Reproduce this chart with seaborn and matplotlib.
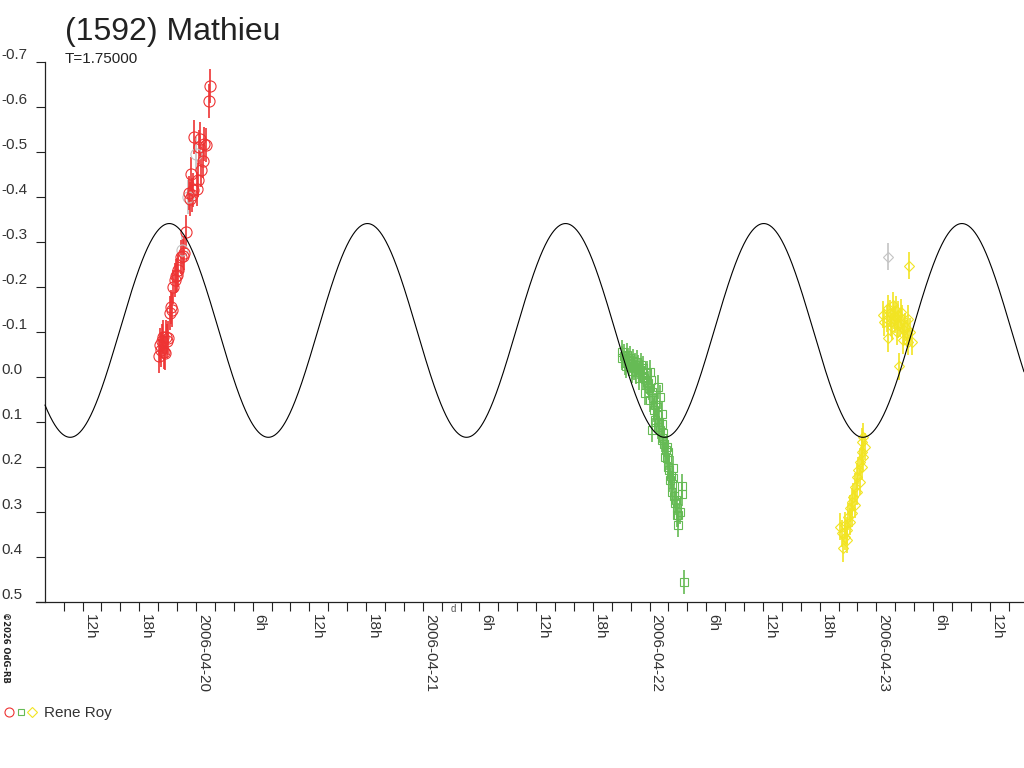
import numpy as np
import pandas as pd
import matplotlib
matplotlib.use('Agg')
import matplotlib.pyplot as plt
import matplotlib.dates as mdates
from matplotlib.lines import Line2D
from matplotlib.legend_handler import HandlerTuple
import seaborn as sns

# times are hours since 2006-04-19 00:00 UT, values are relative magnitudes
red_t = [20.08, 20.19, 20.30, 20.40, 20.51, 20.61, 20.72, 20.83, 20.93, 21.04,
         21.25, 21.35, 21.46, 21.57, 21.78, 21.88, 21.99, 22.10, 22.41, 22.62,
         22.73, 22.94, 23.26, 23.37, 23.47, 23.58, 23.68, 23.79, 24.11, 24.21,
         24.32, 24.42, 24.53, 24.74, 24.85, 25.06, 25.38, 25.48]
red_mag = [-0.047, -0.071, -0.060, -0.080, -0.089, -0.056, -0.053, -0.089, -0.080, -0.087,
           -0.142, -0.156, -0.149, -0.200, -0.216, -0.224, -0.227, -0.238, -0.267, -0.269,
           -0.276, -0.322, -0.409, -0.396, -0.451, -0.404, -0.416, -0.533, -0.418, -0.438,
           -0.511, -0.529, -0.460, -0.480, -0.518, -0.516, -0.613, -0.647]
red_gray_t = [22.52, 23.15, 24.00]
red_gray_mag = [-0.282, -0.400, -0.496]

green_t = [69.05, 69.08, 69.29, 69.40, 69.51, 69.61, 69.72, 69.82, 69.93, 70.11,
           70.14, 70.25, 70.35, 70.46, 70.56, 70.67, 70.77, 70.88, 70.99, 71.09,
           71.17, 71.20, 71.30, 71.41, 71.52, 71.70, 71.73, 71.83, 71.94, 72.04,
           72.04, 72.15, 72.22, 72.26, 72.36, 72.47, 72.57, 72.57, 72.75, 72.78,
           72.89, 72.89, 72.99, 73.10, 73.10, 73.28, 73.28, 73.31, 73.42, 73.42,
           73.52, 73.63, 73.73, 73.81, 73.84, 73.95, 73.95, 74.05, 74.16, 74.26,
           74.34, 74.37, 74.48, 74.48, 74.58, 74.69, 74.79, 74.87, 74.90, 75.01,
           75.01, 75.22, 75.40, 75.40, 75.64]
green_mag = [-0.042, -0.056, -0.047, -0.031, -0.024, -0.049, -0.038, -0.029, -0.042, -0.022,
             -0.013, -0.036, -0.020, -0.027, -0.011, -0.033, -0.022, 0.002, -0.016, -0.027,
             0.000, -0.011, -0.020, 0.002, 0.036, -0.009, 0.011, 0.013, 0.024, -0.011,
             0.051, 0.007, 0.118, 0.033, 0.047, 0.073, 0.096, 0.062, 0.067, 0.084,
             0.022, 0.111, 0.100, 0.044, 0.118, 0.082, 0.140, 0.104, 0.124, 0.136,
             0.149, 0.178, 0.162, 0.156, 0.180, 0.200, 0.167, 0.207, 0.229, 0.220,
             0.256, 0.238, 0.202, 0.224, 0.264, 0.280, 0.273, 0.307, 0.291, 0.329,
             0.307, 0.300, 0.242, 0.260, 0.456]

yellow_t = [94.62, 94.45, 94.80, 94.45, 94.62, 94.27, 94.45, 94.09, 93.92, 94.27,
            93.74, 93.92, 93.56, 93.39, 93.74, 93.21, 93.39, 93.03, 93.21, 92.68,
            92.86, 92.33, 92.68, 92.15, 92.86, 92.50,
            96.73, 96.81, 97.09, 97.23, 97.26, 97.44, 97.55, 97.62, 97.76, 97.86,
            97.97, 98.08, 98.15, 98.29, 98.32, 98.40, 98.50, 98.61, 98.68, 98.85,
            98.92, 99.03, 99.21, 99.35, 99.38, 99.56, 99.74, 99.46]
yellow_mag = [0.133, 0.144, 0.155, 0.166, 0.177, 0.188, 0.199, 0.207, 0.222, 0.233,
              0.244, 0.255, 0.266, 0.277, 0.284, 0.292, 0.303, 0.310, 0.322, 0.329,
              0.340, 0.347, 0.355, 0.333, 0.362, 0.381,
              -0.138, -0.122, -0.130, -0.153, -0.086, -0.142, -0.122, -0.112, -0.160, -0.136,
              -0.127, -0.149, -0.101, -0.116, -0.138, -0.024, -0.119, -0.144, -0.130, -0.082,
              -0.104, -0.112, -0.097, -0.078, -0.130, -0.101, -0.078, -0.247]
yellow_gray_t = [97.23]
yellow_gray_mag = [-0.267]

red_err, green_err, yellow_err = 0.038, 0.027, 0.030

# fitted model curve
model_mean = -0.1035
model_amp = 0.2375
model_period_h = 20.97
model_peak_h = 21.17

y_ticks = [-0.7, -0.6, -0.5, -0.4, -0.3, -0.2, -0.1, 0.0, 0.1, 0.2, 0.3, 0.4, 0.5]
x_tick_hours = np.arange(10, 112, 2)

title = '(1592) Mathieu'
subtitle = 'T=1.75000'
observer = 'Rene Roy'

RED = '#ee3333'
GREEN = '#66bb55'
YELLOW = '#f2e422'
GRAY = '#c4c4c4'
INK = '#222222'

sns.set_style('white')
plt.rcParams['font.family'] = ['Liberation Sans', 'DejaVu Sans']

BASE = mdates.date2num(pd.Timestamp('2006-04-19').to_pydatetime())


def to_num(hours):
    return BASE + np.asarray(hours, dtype=float) / 24.0


fig = plt.figure(figsize=(10.24, 7.68), dpi=100)
ax = fig.add_axes([36 / 1024, 166 / 768, 988 / 1024, 540 / 768])

x_left, x_spine, x_right = 7.07, 8.02, 111.62

# data
def draw(t, mag, err, color, marker, ms):
    ax.errorbar(to_num(t), mag, yerr=err, fmt=marker, ms=ms, mfc='none', mec=color,
                mew=0.8, ecolor=color, elinewidth=1.2, capsize=0, zorder=2)

draw(red_gray_t, red_gray_mag, red_err, GRAY, 'o', 8)
draw(yellow_gray_t, yellow_gray_mag, yellow_err, GRAY, 'D', 5.1)
draw(red_t, red_mag, red_err, RED, 'o', 8)
draw(green_t, green_mag, green_err, GREEN, 's', 5.8)
draw(yellow_t, yellow_mag, yellow_err, YELLOW, 'D', 5.1)

# model curve
model_h = np.linspace(x_spine, x_right, 1500)
model_mag = model_mean - model_amp * np.cos(2 * np.pi * (model_h - model_peak_h) / model_period_h)
sns.lineplot(x=to_num(model_h), y=model_mag, ax=ax, color='black', lw=0.8, zorder=3,
             estimator=None, sort=False)

ax.set_xlim(to_num(x_left), to_num(x_right))
ax.set_ylim(0.5, -0.7)

for s in ['top', 'right']:
    ax.spines[s].set_visible(False)
ax.spines['left'].set_position(('data', to_num(x_spine)))
for s in ['left', 'bottom']:
    ax.spines[s].set_color(INK)
    ax.spines[s].set_linewidth(0.9)

ax.set_yticks(y_ticks)
ax.set_yticklabels([f'{v:.1f}' for v in y_ticks])
ax.tick_params(axis='y', left=True, direction='out', length=6.5, width=0.8, color=INK,
               pad=25.2, labelsize=11, labelcolor='#333333')
for lab in ax.get_yticklabels():
    lab.set_ha('left')
    lab.set_va('bottom')


def hour_fmt(x, pos):
    hr = int(round((x % 1) * 24)) % 24
    if hr == 0:
        return mdates.num2date(round(x)).strftime('%Y-%m-%d')
    if hr % 6 == 0:
        return f'{hr}h'
    return ''


ax.set_xticks(to_num(x_tick_hours))
ax.xaxis.set_major_formatter(plt.FuncFormatter(hour_fmt))
ax.tick_params(axis='x', bottom=True, direction='out', length=6.8, width=0.8, color=INK,
               pad=2, labelsize=11, labelcolor='#333333')
for lab in ax.get_xticklabels():
    lab.set_rotation(270)
    lab.set_ha('left')
    lab.set_va('top')

ax.grid(False)
ax.set_xlabel('')
ax.set_ylabel('')

fig.text(65 / 1024, 1 - 40 / 768, title, fontsize=23, color=INK, va='baseline')
fig.text(65 / 1024, 1 - 63 / 768, subtitle, fontsize=11, color=INK, va='baseline')
fig.text(1 / 1024, 1 - 612 / 768, '\u00a92026 OdG-RB', fontsize=6, fontweight='bold',
         rotation=270, ha='left', va='top', color=INK, family=['DejaVu Sans'])
fig.text(451 / 1024, 1 - 604 / 768, 'd', fontsize=7, ha='left', va='top', color='#555555')

handles = (Line2D([], [], ls='none', marker='o', ms=6.5, mfc='none', mec=RED, mew=0.8),
           Line2D([], [], ls='none', marker='s', ms=5, mfc='none', mec=GREEN, mew=0.8),
           Line2D([], [], ls='none', marker='D', ms=4.6, mfc='none', mec=YELLOW, mew=0.8))
fig.legend([handles], [observer], handler_map={tuple: HandlerTuple(ndivide=None, pad=0)},
           loc='center left', bbox_to_anchor=(3 / 1024, 1 - 713 / 768), frameon=False,
           handlelength=2.3, handletextpad=0.4, borderpad=0, borderaxespad=0,
           fontsize=11, labelcolor='#333333')

fig.savefig('out.png', dpi=100)
